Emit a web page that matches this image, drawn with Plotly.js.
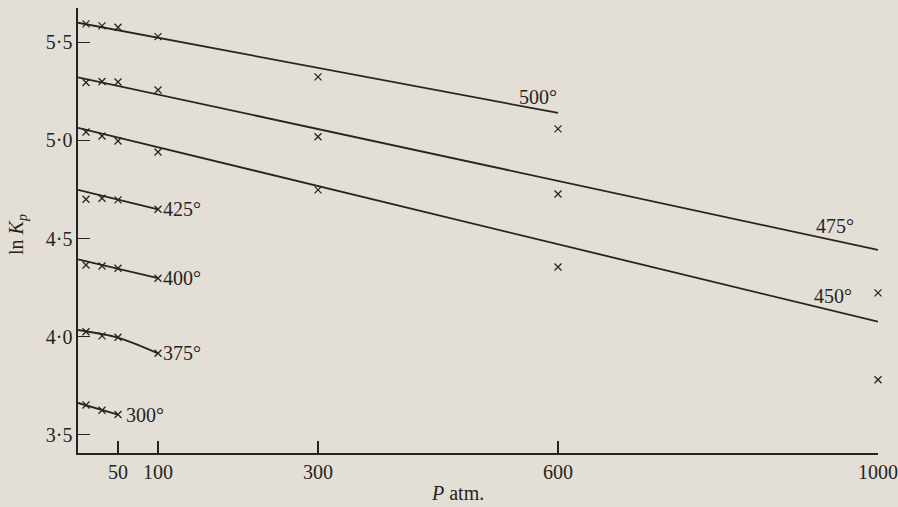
<!DOCTYPE html>
<html>
<head>
<meta charset="utf-8">
<script src="https://cdn.plot.ly/plotly-3.0.1.min.js"></script>
<style>html,body{margin:0;padding:0;background:#e4dfd6;}#chart{width:898px;height:507px;}</style>
</head>
<body>
<div id="chart"></div>
<script>
// Pressures (atm) of the measured points
const pLow = [10, 30, 50, 100];
const pAll = [10, 30, 50, 100, 300, 600, 1000];

// Measured ln Kp (crosses)
const pts500 = [5.594, 5.584, 5.577, 5.529, 5.324, 5.059];
const pts475 = [5.295, 5.300, 5.298, 5.257, 5.019, 4.727, 4.223];
const pts450 = [5.043, 5.023, 4.997, 4.941, 4.748, 4.355, 3.780];
const pts425 = [4.700, 4.705, 4.697, 4.649];
const pts400 = [4.365, 4.360, 4.349, 4.298];
const pts375 = [4.025, 4.004, 3.997, 3.915];
const pts300 = [3.652, 3.625, 3.603];

// Drawn (fitted) lines
const line500P = [0, 600],  line500 = [5.600, 5.140];
const line475P = [0, 1000], line475 = [5.322, 4.442];
const line450P = [0, 1000], line450 = [5.064, 4.076];
const line425P = [0, 100],  line425 = [4.748, 4.649];
const line400P = [0, 100],  line400 = [4.394, 4.298];
const line375P = [0, 50, 100], line375 = [4.034, 3.995, 3.915];
const line300P = [0, 50],   line300 = [3.662, 3.603];

// Temperature labels
const labels = ["500°", "475°", "450°", "425°", "400°", "375°", "300°"];

// Axis ticks
const xTicks = [50, 100, 300, 600, 1000];
const xTickText = ["50", "100", "300", "600", "1000"];
const yTicks = [3.5, 4.0, 4.5, 5.0, 5.5];
const yTickText = ["3·5", "4·0", "4·5", "5·0", "5·5"];

const ink = "#262422";
const serif = "Liberation Serif, Times New Roman, serif";

function lineTrace(x, y, shape) {
  return {x: x, y: y, mode: "lines", type: "scatter", hoverinfo: "skip",
          line: {color: ink, width: 1.8, shape: shape || "linear", smoothing: 0.8},
          cliponaxis: false, showlegend: false};
}
function ptsTrace(x, y) {
  return {x: x, y: y, mode: "markers", type: "scatter",
          marker: {symbol: "x-thin", size: 7, color: ink, line: {color: ink, width: 1.3}},
          cliponaxis: false, showlegend: false};
}

const data = [
  lineTrace(line500P, line500), ptsTrace(pAll.slice(0, 6), pts500),
  lineTrace(line475P, line475), ptsTrace(pAll, pts475),
  lineTrace(line450P, line450), ptsTrace(pAll, pts450),
  lineTrace(line425P, line425), ptsTrace(pLow, pts425),
  lineTrace(line400P, line400), ptsTrace(pLow, pts400),
  lineTrace(line375P, line375, "spline"), ptsTrace(pLow, pts375),
  lineTrace(line300P, line300), ptsTrace(pLow.slice(0, 3), pts300)
];

const labelPos = [
  {x: 575, y: 5.222, xanchor: "center"},
  {x: 946, y: 4.564, xanchor: "center"},
  {x: 944, y: 4.208, xanchor: "center"},
  {x: 104, y: 4.649, xanchor: "left"},
  {x: 104, y: 4.298, xanchor: "left"},
  {x: 104, y: 3.915, xanchor: "left"},
  {x: 58,  y: 3.600, xanchor: "left"}
];

const annotations = labels.map((t, i) => ({
  text: t, x: labelPos[i].x, y: labelPos[i].y, xref: "x", yref: "y",
  xanchor: labelPos[i].xanchor, yanchor: "middle", showarrow: false,
  font: {family: serif, size: 20, color: ink}
}));
annotations.push({
  text: "ln <i>K</i><sub><i>p</i></sub>", xref: "paper", yref: "paper",
  x: -0.075, y: 0.49, textangle: -90, showarrow: false,
  xanchor: "center", yanchor: "middle",
  font: {family: serif, size: 20, color: ink}
});
annotations.push({
  text: "<i>P</i> atm.", xref: "paper", yref: "paper",
  x: 0.474, y: -0.09, showarrow: false, xanchor: "center", yanchor: "middle",
  font: {family: serif, size: 20, color: ink}
});

const layout = {
  width: 898, height: 507,
  margin: {l: 78, r: 20, t: 8, b: 54},
  paper_bgcolor: "#e4dfd6", plot_bgcolor: "#e4dfd6",
  showlegend: false,
  xaxis: {
    range: [0, 1000], showgrid: false, zeroline: false,
    showline: true, linecolor: ink, linewidth: 1.6,
    ticks: "inside", ticklen: 12, tickwidth: 1.3, tickcolor: ink,
    tickvals: xTicks, ticktext: xTickText,
    tickfont: {family: serif, size: 20, color: ink}
  },
  yaxis: {
    range: [3.407, 5.675], showgrid: false, zeroline: false,
    showline: true, linecolor: ink, linewidth: 1.6,
    ticks: "inside", ticklen: 12, tickwidth: 1.3, tickcolor: ink,
    tickvals: yTicks, ticktext: yTickText,
    tickfont: {family: serif, size: 20, color: ink}
  },
  annotations: annotations
};

Plotly.newPlot("chart", data, layout, {displayModeBar: false, staticPlot: true});
</script>
</body>
</html>
